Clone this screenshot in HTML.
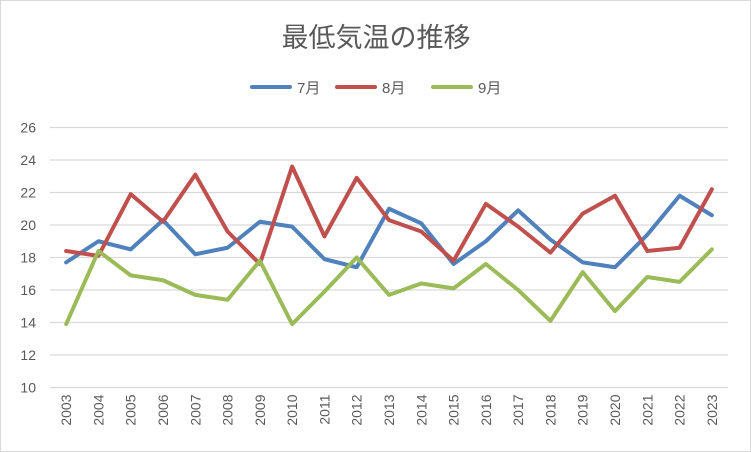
<!DOCTYPE html>
<html><head><meta charset="utf-8"><style>
body{margin:0;background:#fff}
svg{display:block;font-family:"Liberation Sans","Noto Sans CJK JP",sans-serif}
</style></head><body>
<svg id="c" width="751" height="452">
<rect x="0.5" y="0.5" width="750" height="451" fill="#fff" stroke="#d9d9d9"/>
<text x="376" y="47" text-anchor="middle" font-size="27" fill="#595959">最低気温の推移</text>
<g id="legend"></g>
<g id="grid"></g>
<g id="yax"></g>
<g id="xax"></g>
<g id="series"></g>
</svg>
<script>
const years=[2003,2004,2005,2006,2007,2008,2009,2010,2011,2012,2013,2014,2015,2016,2017,2018,2019,2020,2021,2022,2023];
const jul=[17.7,19.0,18.5,20.3,18.2,18.6,20.2,19.9,17.9,17.4,21.0,20.1,17.6,19.0,20.9,19.1,17.7,17.4,19.4,21.8,20.6];
const aug=[18.4,18.1,21.9,20.2,23.1,19.6,17.6,23.6,19.3,22.9,20.3,19.6,17.8,21.3,19.9,18.3,20.7,21.8,18.4,18.6,22.2];
const sep=[13.9,18.4,16.9,16.6,15.7,15.4,17.8,13.9,15.9,18.0,15.7,16.4,16.1,17.6,16.0,14.1,17.1,14.7,16.8,16.5,18.5];
const yTicks=[10,12,14,16,18,20,22,24,26];
const seriesNames=["7月","8月","9月"];
const colors=["#4f81bd","#c0504d","#9bbb59"];
const NS="http://www.w3.org/2000/svg";
const L=50,R=728,T=127.5,B=387.5,ymin=10,ymax=26;
const cw=(R-L)/years.length;
const xs=i=>L+cw*(i+0.5);
const ys=v=>B-(v-ymin)/(ymax-ymin)*(B-T);
function mk(tag,attrs,parent){const e=document.createElementNS(NS,tag);for(const k in attrs)e.setAttribute(k,attrs[k]);parent.appendChild(e);return e;}
const grid=document.getElementById('grid'),yax=document.getElementById('yax'),xax=document.getElementById('xax'),ser=document.getElementById('series'),leg=document.getElementById('legend');
yTicks.forEach(t=>{
 const l=mk('line',{x1:L,x2:R,y1:ys(t),y2:ys(t),stroke:'#d9d9d9','stroke-width':1.3},grid);
 
 
 const tx=mk('text',{x:36,y:ys(t)+5,'text-anchor':'end','font-size':14,fill:'#595959'},yax);
 tx.textContent=t;
 
 
});
years.forEach((y,i)=>{
 const tx=mk('text',{x:0,y:0,'text-anchor':'end','font-size':14,fill:'#595959',transform:`translate(${xs(i)+5},${B+7}) rotate(-90)`},xax);
 tx.textContent=y;
 
 
});
[jul,aug,sep].forEach((d,s)=>{
 const p=mk('polyline',{points:d.map((v,i)=>xs(i)+','+ys(v)).join(' '),fill:'none',stroke:colors[s],'stroke-width':4,'stroke-linejoin':'round','stroke-linecap':'round'},ser);
 
 
});
const lx=[252,337,433];
seriesNames.forEach((n,s)=>{
 const g=mk('g',{},leg);
 
 
 mk('line',{x1:lx[s],x2:lx[s]+38,y1:87,y2:87,stroke:colors[s],'stroke-width':4,'stroke-linecap':'round'},g);
 const t=mk('text',{x:lx[s]+45,y:93,'font-size':15,fill:'#595959'},g);
 t.textContent=n;
});
</script>
</body></html>
